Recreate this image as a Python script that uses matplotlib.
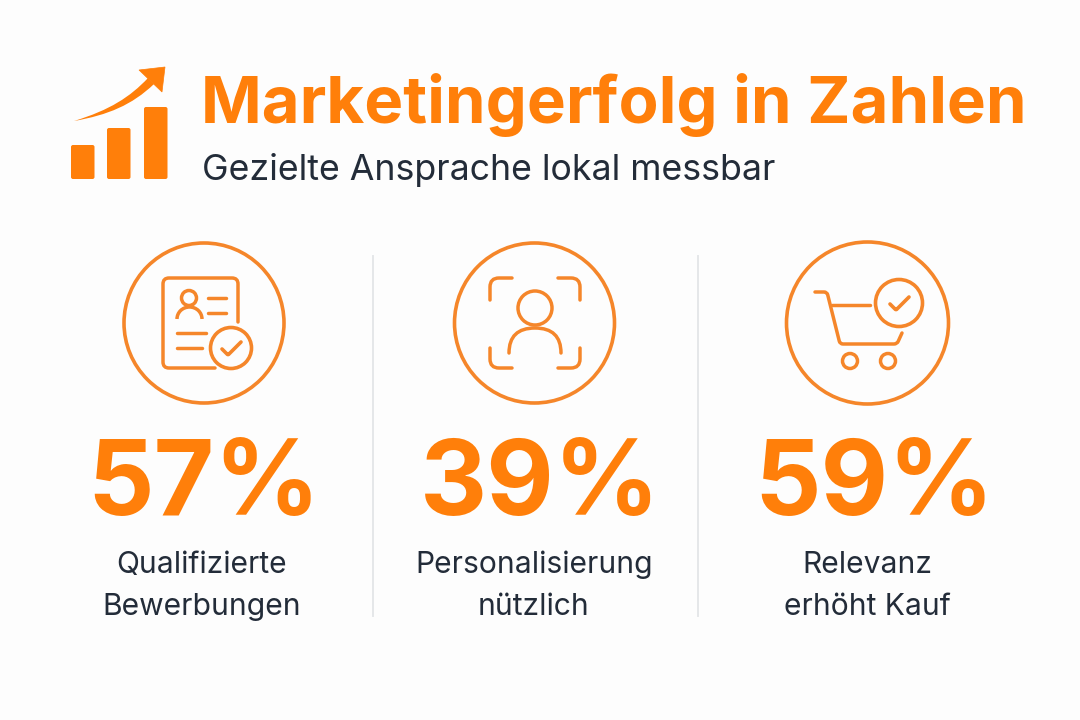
import numpy as np
import matplotlib
matplotlib.use('Agg')
import matplotlib.pyplot as plt
from matplotlib.patches import Circle, Arc, FancyBboxPatch, PathPatch, Polygon
from matplotlib.path import Path

title = 'Marketingerfolg in Zahlen'
subtitle = 'Gezielte Ansprache lokal messbar'
percents = [57, 39, 59]
labels = [['Qualifizierte', 'Bewerbungen'], ['Personalisierung', 'nützlich'], ['Relevanz', 'erhöht Kauf']]
logo_bars = [34, 51, 72]  #Heights of the little bars in the logo.

orange = '#ff7f0a'
line_orange = '#f5862a'
dark = '#232c39'
bg = '#fdfdfd'
lw_big = 2.6
lw = 2.5

plt.rcParams['font.family'] = ['Inter', 'DejaVu Sans']

fig = plt.figure(figsize=(10.8, 7.2), dpi=100, facecolor=bg)
ax = fig.add_axes([0, 0, 1, 1])
ax.set_xlim(0, 1080)
ax.set_ylim(720, 0)  #Pixel coordinates, y down.
ax.axis('off')


def line(pts, width=lw, r=0):
    #Polyline with optional rounded corners of radius r.
    pts = [np.array(p, dtype=float) for p in pts]
    verts = [pts[0]]
    codes = [Path.MOVETO]
    for i in range(1, len(pts) - 1):
        a, c, b = pts[i - 1], pts[i], pts[i + 1]
        ca = (a - c) / np.linalg.norm(a - c)
        cb = (b - c) / np.linalg.norm(b - c)
        verts += [c + ca * r, c, c + cb * r]
        codes += [Path.LINETO, Path.CURVE3, Path.CURVE3]
    verts.append(pts[-1])
    codes.append(Path.LINETO)
    ax.add_patch(PathPatch(Path(verts, codes), fill=False, ec=line_orange, lw=width,
                           capstyle='round', joinstyle='round'))


def ring(x, y, r, width=lw):
    ax.add_patch(Circle((x, y), r, fill=False, ec=line_orange, lw=width))


def check(x, y, r):
    ring(x, y, r, lw_big)
    line([(x - 9, y + 1), (x - 3, y + 7), (x + 10, y - 6)], lw_big, 1)


#Title block
ax.text(201, 105, title, fontsize=47, fontweight='bold', color=orange, va='center', ha='left')
ax.text(202, 170, subtitle, fontsize=25.7, color=dark, va='center', ha='left')

#Logo bars
for x, h in zip([71, 107, 144], logo_bars):
    ax.add_patch(FancyBboxPatch((x + 1, 179 - h + 1), 21.5, h - 2, boxstyle='round,pad=1,rounding_size=2',
                                fc=orange, ec='none'))

#Logo arrow, tapered swoosh and head
swoosh = Path([(74, 121), (110, 110), (130, 97), (148, 78), (154, 84), (132, 105), (108, 115), (74, 121)],
              [Path.MOVETO, Path.CURVE4, Path.CURVE4, Path.CURVE4, Path.LINETO, Path.CURVE4, Path.CURVE4, Path.CURVE4])
ax.add_patch(PathPatch(swoosh, fc=orange, ec='none'))
ax.add_patch(Polygon([(139, 70), (165, 67), (162, 92)], closed=True, fc=orange, ec=orange, lw=0.5))

#Separators
for x in [373, 698]:
    ax.plot([x, x], [256, 616], color='#e5e7e9', lw=1.4)

#Big rings
for x, r in zip([204, 534.5, 867.5], [80, 80, 81]):
    ring(x, 323, r, lw_big)

#Icon 1, document with person
line([(238, 322), (238, 278), (163, 278), (163, 368), (215, 368)], r=6)
ring(189, 298, 7.5)
ax.add_patch(Arc((189.5, 319), 25, 24, theta1=180, theta2=360, ec=line_orange, lw=lw))
line([(208, 298), (226, 298)])
line([(208, 313), (226, 313)])
line([(177, 333), (206, 333)])
line([(177, 348), (202, 348)])
check(231, 348, 20.5)

#Icon 2, person in frame
ring(535, 308, 17)
shoulders = Path([(509, 353), (509, 328), (535, 328), (561, 328), (561, 353)],
                 [Path.MOVETO, Path.CURVE3, Path.CURVE3, Path.CURVE3, Path.CURVE3])
ax.add_patch(PathPatch(shoulders, fill=False, ec=line_orange, lw=lw, capstyle='round'))
for sx, cx in [(1, 490), (-1, 580)]:
    for sy, cy, far in [(1, 278, 300), (-1, 368, 348)]:
        line([(cx, far), (cx, cy), (cx + sx * 22, cy)], r=9)

#Icon 3, shopping cart with check
line([(815, 292), (827, 292), (840, 344), (897, 344), (902, 333)], r=3)
line([(832, 305), (870, 305)])
ring(850, 361, 7.5)
ring(888, 361, 7.5)
check(899, 303, 23.5)

#Numbers and captions
for x, p, lab, lx in zip([204, 540, 874], percents, labels, [202, 534, 867]):
    ax.text(x, 488, '%d%%' % p, fontsize=75, fontweight='bold', color=orange, ha='center', va='center')
    ax.text(lx, 565, lab[0], fontsize=21.6, color=dark, ha='center', va='center')
    ax.text(lx, 607, lab[1], fontsize=21.6, color=dark, ha='center', va='center')

fig.savefig('out.png', dpi=100, facecolor=bg)
